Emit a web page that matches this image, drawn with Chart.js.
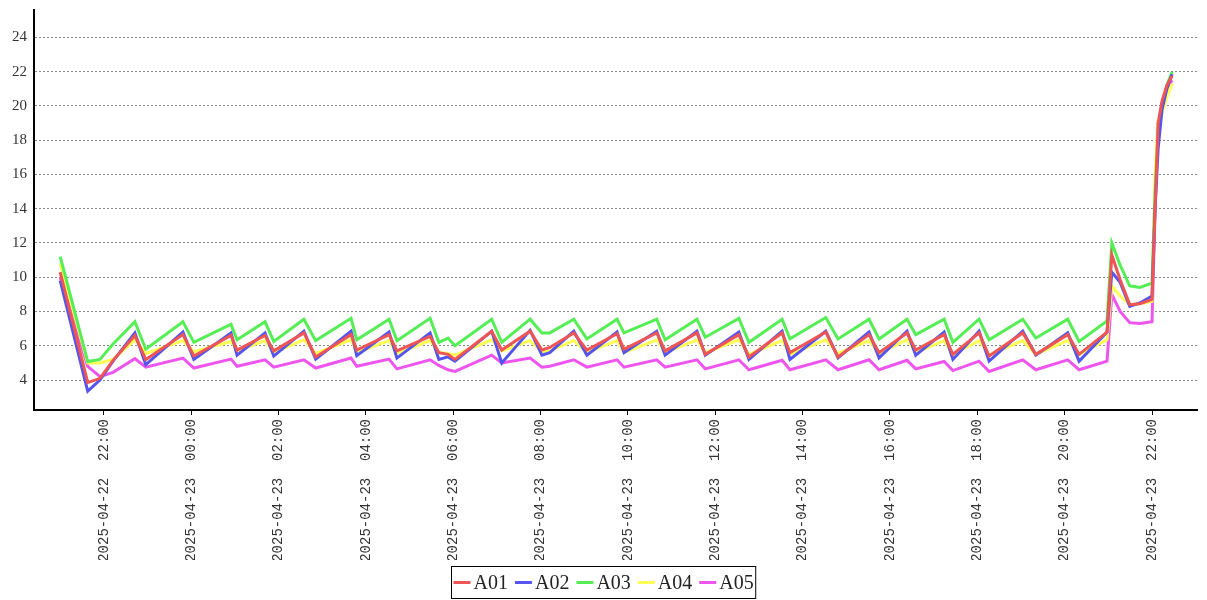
<!DOCTYPE html>
<html>
<head>
<meta charset="utf-8">
<script src="https://cdn.jsdelivr.net/npm/chart.js@4"></script>
<style>
  html, body { margin: 0; padding: 0; background: #fff; }
  #chart { display: block; }
</style>
</head>
<body>
<canvas id="chart" width="1207" height="600"></canvas>
<script>
// hours counted from 2025-04-22 00:00
const times = [21.0, 21.63, 21.91, 22.21,
    22.71, 22.96, 23.81, 24.06, 24.91, 25.05, 25.69, 25.89, 26.58, 26.85,
    27.66, 27.79, 28.53, 28.71, 29.47, 29.67, 29.88, 30.04, 30.88, 31.11,
    31.76, 32.03, 32.21, 32.76, 33.06, 33.75, 33.91, 34.66, 34.85, 35.58, 35.77,
    36.54, 36.77, 37.53, 37.71, 38.53, 38.81, 39.52, 39.75, 40.39, 40.59,
    41.24, 41.44, 42.04, 42.27, 43.04, 43.34, 44.07, 44.33,
    44.97, 45.08, 45.27, 45.49, 45.72, 46.00, 46.07, 46.14, 46.23, 46.34, 46.46];

const seriesNames = ["A01", "A02", "A03", "A04", "A05"];
const seriesColors = ["#ee5555", "#5555ee", "#55ee55", "#ffff55", "#ee55ee"];

const a01 = [10.3, 3.85, 4.1, 5.15,
    6.6, 5.2, 6.65, 5.4, 6.6, 5.75, 6.6, 5.7, 6.75, 5.35,
    6.65, 5.75, 6.65, 5.7, 6.55, 5.6, 5.5, 5.2, 6.85, 5.75,
    6.85, 5.75, 5.9, 6.75, 5.75, 6.7, 5.8, 6.75, 5.7, 6.75, 5.5,
    6.65, 5.35, 6.75, 5.6, 6.8, 5.35, 6.65, 5.6, 6.75, 5.75,
    6.65, 5.5, 6.75, 5.4, 6.75, 5.5, 6.65, 5.5,
    6.8, 11.3, 9.85, 8.4, 8.45, 8.7, 14.0, 19.0, 20.3, 21.2, 21.75];

const a02 = [9.8, 3.35, 4.0, 5.1,
    6.75, 4.9, 6.8, 5.2, 6.75, 5.45, 6.75, 5.4, 6.85, 5.22,
    6.85, 5.42, 6.8, 5.28, 6.75, 5.2, 5.35, 5.1, 6.85, 5.0,
    6.9, 5.45, 5.6, 6.85, 5.45, 6.8, 5.6, 6.85, 5.45, 6.85, 5.45,
    6.8, 5.2, 6.85, 5.2, 6.85, 5.3, 6.8, 5.3, 6.85, 5.45,
    6.8, 5.2, 6.85, 5.1, 6.85, 5.45, 6.75, 5.1,
    6.8, 10.3, 9.7, 8.3, 8.5, 8.9, 14.0, 17.5, 19.8, 21.0, 21.85];

const a03 = [11.2, 5.08, 5.2, 6.1,
    7.4, 5.8, 7.4, 6.2, 7.25, 6.35, 7.4, 6.25, 7.55, 6.3,
    7.6, 6.35, 7.55, 6.3, 7.6, 6.2, 6.45, 6.0, 7.55, 6.2,
    7.55, 6.75, 6.75, 7.55, 6.4, 7.55, 6.75, 7.55, 6.35, 7.55, 6.5,
    7.6, 6.2, 7.55, 6.4, 7.65, 6.4, 7.55, 6.4, 7.55, 6.65,
    7.55, 6.2, 7.55, 6.35, 7.55, 6.45, 7.55, 6.25,
    7.45, 12.0, 10.7, 9.5, 9.4, 9.65, 15.0, 18.5, 20.0, 21.2, 22.0];

const a04 = [10.8, 5.0, 5.0, 5.2,
    6.35, 5.55, 6.3, 5.65, 6.25, 5.7, 6.3, 5.6, 6.35, 5.55,
    6.35, 5.6, 6.3, 5.55, 6.3, 5.6, 5.55, 5.45, 6.35, 5.7,
    6.3, 5.65, 5.7, 6.3, 5.6, 6.3, 5.6, 6.35, 5.6, 6.35, 5.6,
    6.35, 5.5, 6.3, 5.5, 6.35, 5.55, 6.3, 5.55, 6.35, 5.6,
    6.3, 5.5, 6.3, 5.45, 6.3, 5.5, 6.3, 5.5,
    6.35, 9.5, 8.9, 8.4, 8.45, 8.6, 16.0, 19.2, 19.6, 20.5, 21.3];

const a05 = [10.0, 4.8, 4.2, 4.45,
    5.25, 4.75, 5.28, 4.7, 5.22, 4.8, 5.18, 4.75, 5.18, 4.7,
    5.28, 4.8, 5.22, 4.65, 5.18, 4.85, 4.6, 4.5, 5.45, 5.0,
    5.28, 4.75, 4.8, 5.18, 4.75, 5.18, 4.75, 5.18, 4.75, 5.18, 4.65,
    5.18, 4.6, 5.15, 4.6, 5.18, 4.6, 5.18, 4.6, 5.15, 4.65,
    5.08, 4.55, 5.1, 4.5, 5.18, 4.6, 5.18, 4.6,
    5.1, 9.0, 8.0, 7.35, 7.3, 7.4, 14.0, 19.0, 20.0, 21.0, 21.5];

const xTicks = [22, 24, 26, 28, 30, 32, 34, 36, 38, 40, 42, 44, 46];
const yTicks = [4, 6, 8, 10, 12, 14, 16, 18, 20, 22, 24];

function fmtTime(h) {
    const day = h >= 24 ? "2025-04-23" : "2025-04-22";
    const hh = String(Math.round(h) % 24).padStart(2, "0");
    return day + "  " + hh + ":00";
}

const allValues = [a01, a02, a03, a04, a05];

const boxedLegend = {
    id: "boxedLegend",
    afterDraw(chart) {
        const ctx = chart.ctx;
        ctx.save();
        ctx.font = "20px 'Liberation Serif'";
        const lineLen = 17, gap = 3, sep = 7, pad = 2;
        const widths = seriesNames.map((n) => lineLen + gap + ctx.measureText(n).width);
        const total = widths.reduce((a, b) => a + b, 0) + sep * (widths.length - 1);
        const boxW = total + pad * 2;
        const boxX = Math.round(chart.width / 2 - boxW / 2) + 0.5;
        const boxY = 566.5, boxH = 32;
        ctx.strokeStyle = "#000";
        ctx.lineWidth = 1;
        ctx.strokeRect(boxX, boxY, boxW, boxH);
        let x = boxX + pad;
        const cy = boxY + boxH / 2;
        seriesNames.forEach((n, i) => {
            ctx.strokeStyle = seriesColors[i];
            ctx.lineWidth = 3;
            ctx.beginPath();
            ctx.moveTo(x, cy);
            ctx.lineTo(x + lineLen, cy);
            ctx.stroke();
            ctx.fillStyle = "#222";
            ctx.textBaseline = "middle";
            ctx.fillText(n, x + lineLen + gap, cy + 1);
            x += widths[i] + sep;
        });
        ctx.restore();
    }
};

new Chart(document.getElementById("chart"), {
    type: "line",
    data: {
        datasets: seriesNames.map((name, i) => ({
            label: name,
            data: times.map((t, k) => ({ x: t, y: allValues[i][k] })),
            borderColor: seriesColors[i],
            backgroundColor: seriesColors[i],
            borderWidth: 3,
            pointRadius: 0,
            tension: 0,
            fill: false,
        })),
    },
    options: {
        responsive: false,
        animation: false,
        layout: { padding: { left: 0, top: 10, right: 10, bottom: 40 } },
        plugins: { legend: { display: false }, tooltip: { enabled: false } },
        scales: {
            x: {
                type: "linear",
                min: 20.4,
                max: 47.03,
                afterBuildTicks: (scale) => { scale.ticks = xTicks.map((v) => ({ value: v })); },
                afterFit: (scale) => { scale.height = 150; },
                grid: { drawOnChartArea: false, drawTicks: true, tickLength: 5, color: "#000" },
                border: { display: true, color: "#000", width: 2 },
                ticks: {
                    autoSkip: false,
                    minRotation: 90,
                    maxRotation: 90,
                    padding: 4,
                    color: "#333",
                    font: { family: "'Liberation Mono'", size: 14 },
                    callback: (v) => fmtTime(v),
                },
            },
            y: {
                min: 2.25,
                max: 25.6,
                afterBuildTicks: (scale) => { scale.ticks = yTicks.map((v) => ({ value: v })); },
                afterFit: (scale) => {
                    scale.width = 34;
                    scale.paddingTop = 0;
                    scale.paddingBottom = 0;
                },
                grid: { drawTicks: false, color: "#888", lineWidth: 1 },
                border: { display: true, color: "#000", width: 2, dash: [2, 2] },
                ticks: {
                    padding: 7,
                    color: "#333",
                    font: { family: "'Liberation Serif'", size: 15 },
                },
            },
        },
    },
    plugins: [boxedLegend],
});
</script>
</body>
</html>
